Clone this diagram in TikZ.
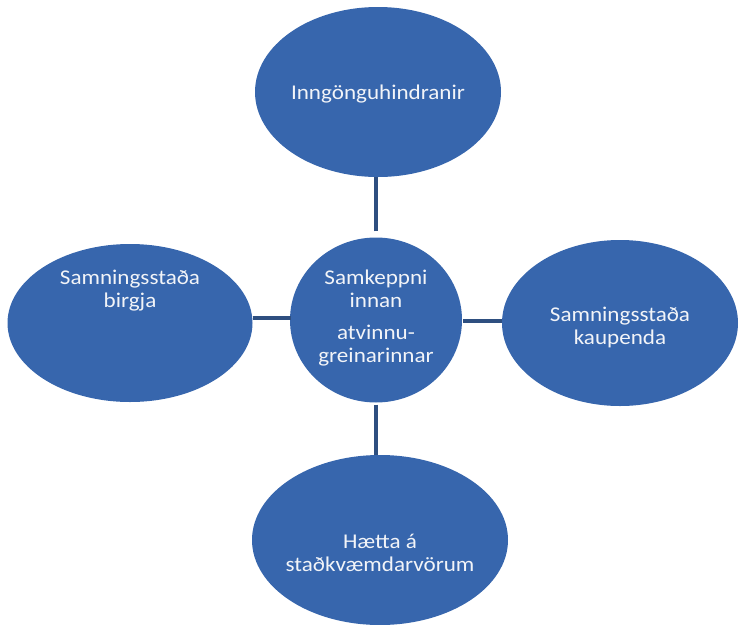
\documentclass[tikz,border=0pt]{standalone}
\usepackage{fontspec}
\setmainfont[FakeStretch=1.1]{Carlito}
\usetikzlibrary{shapes.geometric}
\definecolor{blobfill}{HTML}{3766AD}
\definecolor{linkcol}{HTML}{2E4F80}
\definecolor{txtcol}{HTML}{F2F4F8}
\tikzset{
  blob/.style={ellipse, fill=blobfill, draw=none, inner sep=0pt},
  lbl/.style={text=txtcol, align=center, font=\fontsize{21}{23}\selectfont, inner sep=0pt},
  link/.style={draw=linkcol, line width=4pt}
}
\begin{document}
\begin{tikzpicture}[x=1pt,y=-1pt]
\useasboundingbox (0,0) rectangle (739,624);
\node[blob, minimum width=246pt, minimum height=170pt] (top) at (378,92) {};
\node[blob, minimum width=245pt, minimum height=158pt] (left) at (130,323) {};
\node[blob, minimum width=172pt, minimum height=165pt] (mid) at (376,320) {};
\node[blob, minimum width=236pt, minimum height=166pt] (right) at (620,323) {};
\node[blob, minimum width=256pt, minimum height=170pt] (bot) at (380,540) {};
\draw[link] (mid.north -| 376,0) ++(0,-6) coordinate (m1) -- (m1 |- top.south);
\draw[link] (mid.south) ++(0,2) coordinate (m2) -- (m2 |- bot.north);
\draw[link] (left.east |- 0,318) -- (291,318);
\draw[link] (463,321) -- (right.west |- 0,321);
\node[lbl] (ttop) at (378,94) {Inngönguhindranir};
\node[lbl] (tleft) at (130,291) {Samningsstaða\\birgja};
\node[lbl] (tright) at (620,327) {Samningsstaða\\kaupenda};
\node[lbl] (tbot) at (380,553) {Hætta á\\staðkvæmdarvörum};
\node[lbl] (tmid) at (376,318) {Samkeppni\\innan\\[9pt]atvinnu-\\greinarinnar};
\end{tikzpicture}
\end{document}
